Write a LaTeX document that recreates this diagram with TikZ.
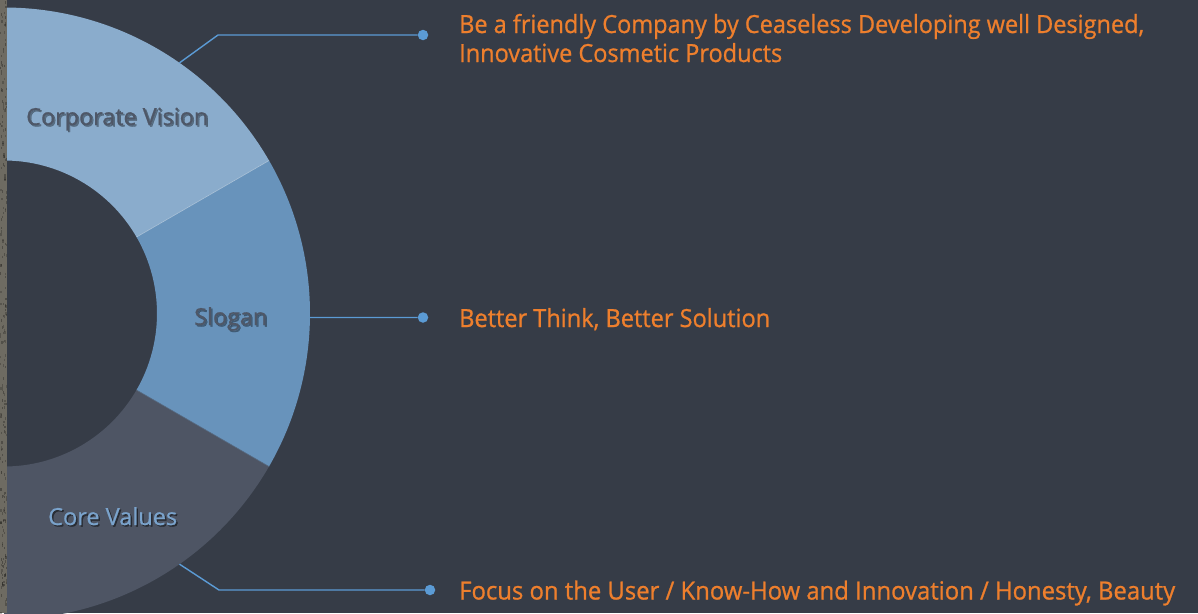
\documentclass[tikz,border=0pt]{standalone}
\usepackage{fontspec}
\setmainfont{Open Sans}
\newfontfamily\valuefont{Open Sans}[FakeBold=0.9]
\newfontfamily\labelfont{Open Sans}[FakeBold=0.6]
\usepackage{graphicx}
\usetikzlibrary{calc}

\definecolor{bgdark}{HTML}{363C47}
\definecolor{stripe}{HTML}{6E6B62}
\definecolor{visionfill}{HTML}{8AACCC}
\definecolor{sloganfill}{HTML}{6893BB}
\definecolor{corefill}{HTML}{4E5564}
\definecolor{linkblue}{HTML}{5B9BD5}
\definecolor{accent}{HTML}{EE7F2D}
\definecolor{labeldark}{HTML}{4E5767}
\definecolor{labellight}{HTML}{7AA3CC}

% stretch a text horizontally to a given width, keeping its height
\newcommand\fitto[2]{\resizebox{#1pt}{\height}{#2}}

\tikzset{
  conn/.style={draw=linkblue, line width=1.4pt},
  enddot/.style={circle, fill=linkblue, minimum size=10.5pt, inner sep=0pt},
  valuetext/.style={anchor=base west, inner sep=0pt, text=accent, font=\valuefont\fontsize{25}{30}\selectfont},
  seglabel/.style={anchor=base west, inner sep=0pt, font=\labelfont\fontsize{23.5}{28}\selectfont},
}

\begin{document}
\begin{tikzpicture}[x=1pt, y=-1pt]
\useasboundingbox (0,0) rectangle (1198,613);
\fill[bgdark] (0,0) rectangle (1198,613);

% ring centre and radii
\coordinate (C) at (4,313.5);
\def\ro{306}
\def\ri{153}

% the three ring segments
\fill[visionfill] ($(C)+(-90:\ro)$) arc[start angle=-90, end angle=-30, radius=\ro]
  -- ($(C)+(-30:\ri)$) arc[start angle=-30, end angle=-90, radius=\ri] -- cycle;
\fill[sloganfill] ($(C)+(-30:\ro)$) arc[start angle=-30, end angle=30, radius=\ro]
  -- ($(C)+(30:\ri)$) arc[start angle=30, end angle=-30, radius=\ri] -- cycle;
\fill[corefill] ($(C)+(30:\ro)$) arc[start angle=30, end angle=90, radius=\ro]
  -- ($(C)+(90:\ri)$) arc[start angle=90, end angle=30, radius=\ri] -- cycle;
\draw[visionfill!70!white, line width=0.6pt] ($(C)+(-30:\ri)$) -- ($(C)+(-30:\ro)$);
\draw[corefill!60!sloganfill, line width=0.6pt] ($(C)+(30:\ri)$) -- ($(C)+(30:\ro)$);

% textured strip along the left edge
\fill[stripe] (0,0) rectangle (7,613);
\pgfmathsetseed{17}
\foreach \k in {1,...,220}{
  \pgfmathsetmacro{\yy}{rnd*613}
  \pgfmathsetmacro{\xx}{rnd*6}
  \pgfmathsetmacro{\sh}{rnd*40}
  \fill[stripe!\sh!black, opacity=0.3] (\xx,\yy) rectangle ++(1.2,2.5);
}

% segment labels with soft drop shadow
\node[seglabel, text=black, opacity=0.35] at (27.5,126.5) {\fitto{182}{Corporate Vision}};
\node[seglabel, text=labeldark] (lvision) at (26,125) {\fitto{182}{Corporate Vision}};
\node[seglabel, text=black, opacity=0.35] at (195.5,326.5) {\fitto{73}{Slogan}};
\node[seglabel, text=labeldark] (lslogan) at (194,325) {\fitto{73}{Slogan}};
\node[seglabel, text=black, opacity=0.45] at (49.5,526.5) {\fitto{129}{Core Values}};
\node[seglabel, text=labellight] (lcore) at (48,525) {\fitto{129}{Core Values}};

% anchor points on the outer rim
\coordinate (rimV) at ($(C)+(-55:\ro)$);
\coordinate (rimS) at ($(C)+(0.75:\ro)$);
\coordinate (rimC) at ($(C)+(55:\ro)$);

% end dots
\node[enddot] (dotV) at (423,35) {};
\node[enddot] (dotS) at (423,317.5) {};
\node[enddot] (dotC) at (430,590) {};

% leader lines
\draw[conn] (rimV) -- (218,35) -- (dotV);
\draw[conn] (rimS) -- (dotS);
\draw[conn] (rimC) -- (219,590) -- (dotC);

% value texts
\node[valuetext] (tV1) at (459,33) {\fitto{685}{Be a friendly Company by Ceaseless Developing well Designed,}};
\node[valuetext] (tV2) at (459,62) {\fitto{323}{Innovative Cosmetic Products}};
\node[valuetext] (tS) at (459,327) {\fitto{311}{Better Think, Better Solution}};
\node[valuetext] (tC) at (459,599.5) {\fitto{716}{Focus on the User / Know-How and Innovation / Honesty, Beauty}};
\end{tikzpicture}
\end{document}
